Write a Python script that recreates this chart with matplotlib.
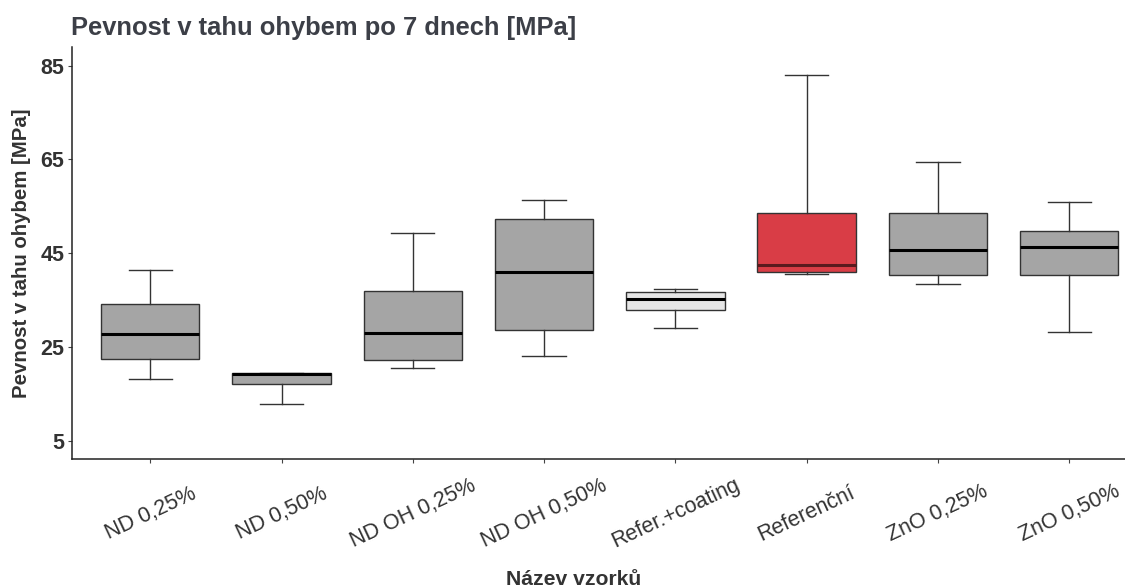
import matplotlib
matplotlib.use("Agg")
import matplotlib.pyplot as plt

# hodnoty
vzorky = ["ND 0,25%", "ND 0,50%", "ND OH 0,25%", "ND OH 0,50%",
          "Refer.+coating", "Referenční", "ZnO 0,25%", "ZnO 0,50%"]
whis_lo = [18.1, 12.8, 20.4, 23.0, 29.1, 40.5, 38.5, 28.15]
q1 = [22.4, 17.1, 22.1, 28.6, 32.8, 40.9, 40.4, 40.4]
median = [27.8, 19.2, 27.9, 40.9, 35.3, 42.5, 45.7, 46.3]
q3 = [34.2, 19.4, 37.0, 52.3, 36.7, 53.5, 53.65, 49.8]
whis_hi = [41.4, 19.4, 49.3, 56.4, 37.4, 83.1, 64.4, 56.0]
barvy = ["#a5a5a5", "#a5a5a5", "#a5a5a5", "#a5a5a5",
         "#e6e6e6", "#d93d46", "#a5a5a5", "#a5a5a5"]
y_ticks = [5, 25, 45, 65, 85]

plt.rcParams['font.family'] = ['Liberation Sans', 'DejaVu Sans']
text_col = '#333333'

fig = plt.figure(figsize=(11.25, 5.87), dpi=100)
ax = fig.add_axes([71.5 / 1125, 1 - 459.3 / 587, (1148 - 71.5) / 1125, (459.3 - 47) / 587])

stats = []
for i in range(len(vzorky)):
    stats.append({'label': vzorky[i], 'whislo': whis_lo[i], 'q1': q1[i], 'med': median[i],
                  'q3': q3[i], 'whishi': whis_hi[i], 'fliers': []})

pos = list(range(1, len(vzorky) + 1))
bp = ax.bxp(stats, positions=pos, widths=0.75, patch_artist=True, showfliers=False,
            capwidths=0.33,
            boxprops=dict(edgecolor='#333333', linewidth=1.0),
            whiskerprops=dict(color='#333333', linewidth=1.0),
            capprops=dict(color='#333333', linewidth=1.0),
            medianprops=dict(color='black', linewidth=2.2))
for box, c in zip(bp['boxes'], barvy):
    box.set_facecolor(c)
# tmavší medián u referenčního vzorku
bp['medians'][5].set_color('#5a1a1e')

ax.set_xlim(0.4, 8.6)
ax.set_ylim(1, 89)
ax.set_yticks(y_ticks)
ax.set_yticklabels([str(v) for v in y_ticks], fontsize=15.5, fontweight='bold', color=text_col)
ax.set_xticks(pos)
ax.set_xticklabels(vzorky, rotation=25, ha='center', va='center', fontsize=15.5, color=text_col)
ax.tick_params(axis='x', length=3, pad=36, color='#444444')
ax.tick_params(axis='y', length=3, pad=2, color='#444444')

for s in ['top', 'right']:
    ax.spines[s].set_visible(False)
for s in ['left', 'bottom']:
    ax.spines[s].set_color('#222222')
    ax.spines[s].set_linewidth(1.1)

fig.text(71 / 1125, 1 - 35 / 587, "Pevnost v tahu ohybem po 7 dnech [MPa]",
         fontsize=18.4, fontweight='bold', color='#3c3f47', ha='left', va='baseline')
fig.text(21.7 / 1125, 1 - 253 / 587, "Pevnost v tahu ohybem [MPa]", rotation=90,
         fontsize=14.7, fontweight='bold', color=text_col, ha='center', va='center')
fig.text(574 / 1125, 1 - 585 / 587, "Název vzorků",
         fontsize=15.2, fontweight='bold', color=text_col, ha='center', va='baseline')

fig.savefig('out.png', dpi=100)
